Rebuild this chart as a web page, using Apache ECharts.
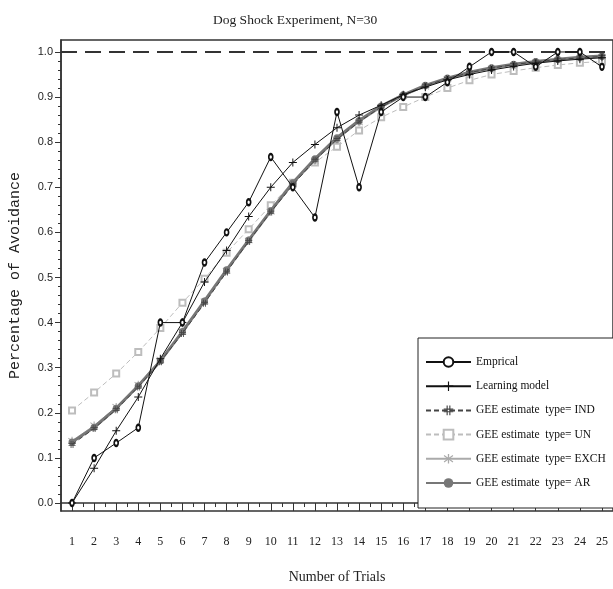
<!DOCTYPE html>
<html>
<head>
<meta charset="utf-8">
<script src="https://cdn.jsdelivr.net/npm/echarts@6/dist/echarts.min.js"></script>
<style>html,body{margin:0;padding:0;background:#fff}#c{width:613px;height:589px}</style>
</head>
<body>
<div id="c"></div>
<script>
const trials = [1,2,3,4,5,6,7,8,9,10,11,12,13,14,15,16,17,18,19,20,21,22,23,24,25];
const minorX = [1.5,2.5,3.5,4.5,5.5,6.5,7.5,8.5,9.5,10.5,11.5,12.5,13.5,14.5,15.5,16.5,17.5,18.5,19.5,20.5,21.5,22.5,23.5,24.5];
const yTicks = [0,0.1,0.2,0.3,0.4,0.5,0.6,0.7,0.8,0.9,1.0];
const yMinor = [0.02,0.04,0.06,0.08,0.12,0.14,0.16,0.18,0.22,0.24,0.26,0.28,0.32,0.34,0.36,0.38,0.42,0.44,0.46,0.48,0.52,0.54,0.56,0.58,0.62,0.64,0.66,0.68,0.72,0.74,0.76,0.78,0.82,0.84,0.86,0.88,0.92,0.94,0.96,0.98];

const empirical = [0, 0.1, 0.133, 0.167, 0.4, 0.4, 0.533, 0.6, 0.667, 0.767, 0.7, 0.633, 0.867, 0.7, 0.867, 0.9, 0.9, 0.933, 0.967, 1.0, 1.0, 0.967, 1.0, 1.0, 0.967];
const learning  = [0, 0.077, 0.16, 0.235, 0.32, 0.40, 0.49, 0.56, 0.635, 0.70, 0.755, 0.795, 0.832, 0.86, 0.882, 0.905, 0.922, 0.938, 0.95, 0.96, 0.968, 0.975, 0.98, 0.984, 0.987];
const geeIND    = [0.13, 0.165, 0.207, 0.257, 0.313, 0.376, 0.443, 0.512, 0.58, 0.645, 0.705, 0.76, 0.806, 0.845, 0.878, 0.904, 0.925, 0.941, 0.954, 0.964, 0.972, 0.978, 0.983, 0.987, 0.99];
const geeUN     = [0.205, 0.245, 0.287, 0.335, 0.388, 0.444, 0.497, 0.555, 0.607, 0.66, 0.71, 0.755, 0.79, 0.826, 0.855, 0.878, 0.9, 0.92, 0.937, 0.95, 0.958, 0.965, 0.971, 0.976, 0.979];
const geeEXCH   = [0.138, 0.172, 0.213, 0.262, 0.318, 0.38, 0.447, 0.515, 0.582, 0.646, 0.706, 0.759, 0.805, 0.844, 0.876, 0.902, 0.923, 0.94, 0.953, 0.963, 0.971, 0.977, 0.982, 0.986, 0.989];
const geeAR     = [0.135, 0.168, 0.21, 0.26, 0.315, 0.38, 0.448, 0.517, 0.583, 0.648, 0.71, 0.763, 0.81, 0.848, 0.88, 0.905, 0.926, 0.942, 0.955, 0.965, 0.973, 0.979, 0.984, 0.988, 0.991];

const names = ['Emprical', 'Learning model', 'GEE estimate  type= IND', 'GEE estimate  type= UN', 'GEE estimate  type= EXCH', 'GEE estimate  type= AR'];

const pts = arr => trials.map((t, i) => [t, arr[i]]);
const PLUS = 'path://M4.4,0H5.6V4.4H10V5.6H5.6V10H4.4V5.6H0V4.4H4.4Z';
const HASH = 'path://M3,0H4.2V10H3Z M5.8,0H7V10H5.8Z M0,3H10V4.2H0Z M0,5.8H10V7H0Z';
const STAR = 'path://M4.4,0H5.6V10H4.4Z M0.6,2.1L1.2,1.1L9.4,7.9L8.8,8.9Z M0.6,7.9L1.2,8.9L9.4,2.1L8.8,1.1Z';

const serif = 'Liberation Serif';
const chart = echarts.init(document.getElementById('c'), null, {renderer: 'canvas'});
chart.setOption({
  animation: false,
  backgroundColor: '#fff',
  title: {
    text: 'Dog Shock Experiment, N=30',
    left: 208, top: 8,
    textStyle: {fontFamily: serif, fontSize: 13.5, fontWeight: 'normal', color: '#222'}
  },
  legend: {
    data: names,
    orient: 'vertical',
    left: 418, top: 338,
    align: 'left',
    itemWidth: 45, itemHeight: 12, itemGap: 12.2,
    padding: [18, 60, 19, 7],
    borderColor: '#222', borderWidth: 1, backgroundColor: '#fff',
    textStyle: {fontFamily: serif, fontSize: 11.5, color: '#111'}
  },
  grid: {left: 57, top: 40, width: 558, height: 473, show: true, borderColor: '#333', borderWidth: 1.5, backgroundColor: '#fff'},
  xAxis: [{
    type: 'value', min: 0.5, max: 25.5,
    name: 'Number of Trials', nameLocation: 'middle', nameGap: 59,
    nameTextStyle: {fontFamily: serif, fontSize: 14, color: '#222'},
    axisLine: {show: true, lineStyle: {color: '#333', width: 1.5}},
    axisTick: {show: true, customValues: trials, length: 8, lineStyle: {color: '#333'}},
    axisLabel: {customValues: trials, margin: 25, fontFamily: serif, fontSize: 12, color: '#222'},
    splitLine: {show: false}
  }, {
    type: 'value', min: 0.5, max: 25.5, position: 'bottom',
    axisLine: {show: false},
    axisTick: {show: true, customValues: minorX, length: 4, lineStyle: {color: '#333'}},
    axisLabel: {show: false},
    splitLine: {show: false}
  }],
  yAxis: [{
    type: 'value', min: -0.0177, max: 1.0265,
    name: 'Percentage of Avoidance', nameLocation: 'middle', nameGap: 38,
    nameTextStyle: {fontFamily: 'Liberation Mono', fontSize: 15, color: '#222'},
    axisLine: {show: true, lineStyle: {color: '#333', width: 1.5}},
    axisTick: {show: true, customValues: yTicks, length: 6, lineStyle: {color: '#333'}},
    axisLabel: {customValues: yTicks, margin: 8, fontFamily: 'Liberation Sans', fontSize: 11, color: '#222', formatter: v => v.toFixed(1)},
    splitLine: {show: false}
  }, {
    type: 'value', min: -0.0177, max: 1.0265, position: 'left',
    axisLine: {show: false},
    axisTick: {show: true, customValues: yMinor, length: 3, lineStyle: {color: '#333'}},
    axisLabel: {show: false},
    splitLine: {show: false}
  }],
  series: [
    {name: names[3], type: 'line', data: pts(geeUN), symbol: 'emptyRect', symbolSize: 6,
     itemStyle: {color: '#bdbdbd'}, lineStyle: {color: '#bdbdbd', width: 1, type: [5, 3]}, z: 2},
    {name: names[4], type: 'line', data: pts(geeEXCH), symbol: STAR, symbolSize: 8,
     itemStyle: {color: '#aaaaaa'}, lineStyle: {color: '#aaaaaa', width: 1}, z: 3},
    {name: names[5], type: 'line', data: pts(geeAR), symbol: 'circle', symbolSize: 7,
     itemStyle: {color: '#777777'}, lineStyle: {color: '#777777', width: 3}, z: 4},
    {name: names[2], type: 'line', data: pts(geeIND), symbol: HASH, symbolSize: 7,
     itemStyle: {color: '#444444'}, lineStyle: {color: '#444444', width: 1, type: [5, 3]}, z: 5},
    {name: names[1], type: 'line', data: pts(learning), symbol: PLUS, symbolSize: 8,
     itemStyle: {color: '#111'}, lineStyle: {color: '#111', width: 1}, z: 6},
    {name: names[0], type: 'line', data: pts(empirical), symbol: 'emptyCircle', symbolSize: [4, 6],
     itemStyle: {color: '#111', borderWidth: 1}, lineStyle: {color: '#111', width: 1}, z: 7,
     markLine: {silent: true, symbol: 'none', label: {show: false},
       lineStyle: {color: '#333', width: 2, type: [16, 8]},
       data: [{yAxis: 1}]}}
  ]
});
</script>
</body>
</html>
